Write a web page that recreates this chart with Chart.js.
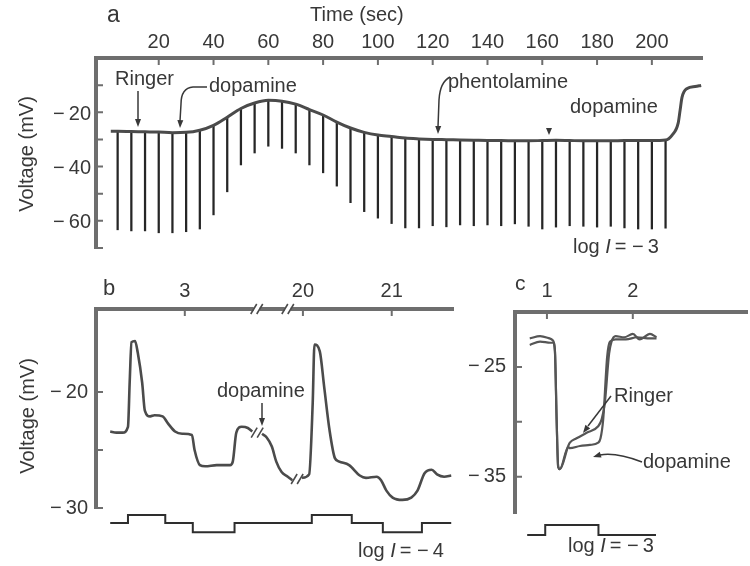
<!DOCTYPE html>
<html>
<head>
<meta charset="utf-8">
<script src="https://cdn.jsdelivr.net/npm/chart.js@4/dist/chart.umd.min.js"></script>
<style>
  html, body { margin: 0; padding: 0; background: #fff; }
  #wrap { position: relative; width: 750px; height: 566px; overflow: hidden; background: #fff; }
  canvas { position: absolute; }
  #chartA { left: 0; top: 0; }
  #chartB { left: 0; top: 270px; }
  #chartC { left: 455px; top: 270px; }
</style>
</head>
<body>
<div id="wrap">
  <canvas id="chartA" width="750" height="270"></canvas>
  <canvas id="chartB" width="470" height="296"></canvas>
  <canvas id="chartC" width="295" height="296"></canvas>
</div>
<script>
const FONT = '"Liberation Sans", Arial, Helvetica, sans-serif';
const INK = "#383838";
const AXIS = "#6e6e6e";
const TRACE = "#4b4b4b";

// ---- panel a : time in sec, voltage in mV ----
const aTimeTicks = [20, 40, 60, 80, 100, 120, 140, 160, 180, 200];
const aVoltTicks = [-10, -20, -30, -40, -50, -60, -70];
const aTraceT = [2.5, 5, 10, 15, 20, 25, 30, 35, 40, 45, 50, 55, 60, 65, 70, 75, 80, 85, 90, 95,
  100, 105, 110, 115, 120, 125, 130, 135, 140, 145, 150, 155, 160, 165, 170, 175, 180, 185, 190, 195,
  200, 205, 207.4, 209.6, 210.3, 211.0, 212.9, 215.8, 218];
const aTraceV = [-27.0, -27.0, -27.1, -27.2, -27.3, -27.5, -27.4, -26.6, -24.8, -21.8, -18.6, -16.6, -15.6, -15.9, -17.0, -19.0, -21.0, -23.6, -25.8, -27.4,
  -28.4, -28.9, -29.5, -29.8, -30.0, -30.1, -30.2, -30.3, -30.4, -30.4, -30.5, -30.5, -30.4, -30.3, -30.4, -30.5, -30.5, -30.5, -30.4, -30.4,
  -30.4, -30.2, -28.4, -24.0, -19.3, -14.5, -11.2, -10.5, -10.1];
// light flashes: one response every 5 s, bottom of each response
const aSpikeT = [5, 10, 15, 20, 25, 30, 35, 40, 45, 50, 55, 60, 65, 70, 75, 80, 85, 90, 95, 100,
  105, 110, 115, 120, 125, 130, 135, 140, 145, 150, 155, 160, 165, 170, 175, 180, 185, 190, 195, 200, 205];
const aSpikeLow = [-63.3, -63.7, -63.7, -64.4, -64.4, -64.0, -63.0, -57.8, -49.3, -39.4, -35.0, -32.5, -33.3, -35.0, -39.4, -42.3, -47.2, -53.3, -56.6, -59.0,
  -61.0, -62.6, -62.6, -61.8, -62.2, -61.5, -61.8, -61.5, -61.8, -61.1, -62.0, -63.0, -62.3, -61.8, -62.0, -62.3, -62.0, -62.6, -63.0, -63.0, -62.7];

// ---- panel b : axis in min, broken between 3 and 20 ----
const bTickPos = [3, 4.33, 5.33];
const bTickLabels = ["3", "20", "21"];
const bVoltTicks = [-20, -25, -30];
const bTraceX = [2.16, 2.23, 2.30, 2.36, 2.38, 2.40, 2.44, 2.47, 2.52, 2.55, 2.61, 2.66, 2.75, 2.81, 2.89, 2.97, 3.08, 3.11, 3.17, 3.23,
  3.36, 3.51, 3.54, 3.58, 3.64, 3.71, 3.76, 3.815, 3.87, 3.92, 3.98, 4.03, 4.09, 4.16, 4.21, 4.265, 4.32, 4.40, 4.44, 4.46,
  4.52, 4.57, 4.63, 4.69, 4.74, 4.85, 4.97, 5.04, 5.16, 5.21, 5.27, 5.34, 5.45, 5.55, 5.62, 5.70, 5.78, 5.84, 5.92, 6.00];
const bTraceV = [-23.4, -23.5, -23.5, -23.0, -19.0, -15.7, -15.6, -16.6, -19.2, -21.6, -22.1, -22.0, -22.1, -22.7, -23.4, -23.6, -23.7, -25.0, -26.3, -26.4,
  -26.3, -26.3, -26.0, -23.5, -23.0, -23.1, -23.4, null, -23.6, -23.9, -24.7, -26.0, -26.9, -27.3, -27.6, null, -27.4, -27.1, -21.0, -15.9,
  -16.5, -19.6, -23.3, -25.7, -26.0, -26.3, -27.2, -27.4, -27.3, -27.6, -28.5, -29.1, -29.3, -29.1, -28.5, -27.0, -26.7, -27.1, -27.3, -27.2];
const bStimX = [2.16, 2.36, 2.78, 3.09, 3.56, 4.43, 4.88, 5.23, 5.67, 6.00];
const bStimV = [-31.3, -30.6, -31.3, -32.1, -31.3, -30.6, -31.3, -32.1, -31.3, -31.3];
const bAxisBreaks = [3.81, 4.16];
const bTraceBreaks = [[3.815, -23.5], [4.265, -27.5]];

// ---- panel c : time in sec ----
const cTimeTicks = [1, 2];
const cVoltTicks = [-25, -30, -35];
const cRingerX = [0.80, 0.92, 1.03, 1.07, 1.093, 1.113, 1.131, 1.151, 1.248, 1.267, 1.345, 1.462, 1.597, 1.636, 1.674, 1.724, 1.752, 1.80, 1.90, 2.00, 2.08, 2.20, 2.276];
const cRingerV = [-22.4, -22.2, -22.4, -22.6, -23.5, -29.8, -34.1, -34.3, -32.2, -31.9, -31.5, -31.0, -30.4, -29.8, -28.3, -23.8, -22.7, -22.2, -22.3, -22.0, -22.5, -22.0, -22.3];
const cDopaX = [0.80, 0.92, 1.04, 1.073, 1.093, 1.113, 1.131, 1.151, 1.248, 1.267, 1.384, 1.50, 1.597, 1.624, 1.655, 1.701, 1.733, 1.80, 1.92, 2.05, 2.20, 2.276];
const cDopaV = [-23.0, -22.7, -22.8, -22.8, -23.6, -29.9, -34.1, -34.3, -32.3, -32.4, -32.2, -32.1, -31.9, -31.5, -29.8, -24.1, -22.7, -22.5, -22.5, -22.3, -22.4, -22.4];
const cStimX = [0.77, 0.98, 1.60, 2.27];
const cStimV = [-40.3, -39.4, -40.3, -40.3];

const pts = (xs, ys) => xs.map((x, i) => ({ x, y: ys[i] }));
const minus = (v) => (v < 0 ? "\u2212\u2009" + Math.abs(v) : String(v));

function axis(position, min, max, ticks, labelFn, pad, size, labelOffset) {
  return {
    type: "linear",
    position,
    min,
    max,
    offset: false,
    afterBuildTicks: (s) => { s.ticks = ticks.map((v) => ({ value: v })); },
    afterFit: (s) => { if (position === "top") s.height = size; else s.width = size; },
    grid: { drawOnChartArea: false, drawTicks: false },
    border: { display: true, width: 4, color: AXIS },
    ticks: {
      callback: labelFn, padding: pad, color: INK, autoSkip: false, maxRotation: 0,
      labelOffset: labelOffset || 0, font: { family: FONT, size: 20 },
    },
  };
}

// tick marks point into the plot
const inwardTicks = {
  id: "inwardTicks",
  afterDraw(chart) {
    const { ctx, chartArea: area, scales: { x, y } } = chart;
    ctx.save();
    ctx.strokeStyle = AXIS;
    ctx.lineWidth = 2;
    ctx.beginPath();
    x.ticks.forEach((t) => { const px = x.getPixelForValue(t.value); ctx.moveTo(px, area.top); ctx.lineTo(px, area.top + 7); });
    y.ticks.forEach((t) => { const py = y.getPixelForValue(t.value); ctx.moveTo(area.left, py); ctx.lineTo(area.left + 7, py); });
    ctx.stroke();
    ctx.restore();
  },
};

function text(ctx, parts, x, y, size) {
  let cx = x;
  ctx.textAlign = "left";
  ctx.textBaseline = "alphabetic";
  [].concat(parts).forEach((p) => {
    const italic = Array.isArray(p);
    const t = italic ? p[0] : p;
    ctx.font = (italic ? "italic " : "") + (size || 20) + "px " + FONT;
    ctx.fillText(t, cx, y);
    cx += ctx.measureText(t).width;
  });
}

function vtext(ctx, t, x, y) {
  ctx.save();
  ctx.translate(x, y);
  ctx.rotate(-Math.PI / 2);
  ctx.font = "20px " + FONT;
  ctx.textAlign = "center";
  ctx.textBaseline = "middle";
  ctx.fillText(t, 0, 0);
  ctx.restore();
}

function head(ctx, from, tip) {
  const a = Math.atan2(tip[1] - from[1], tip[0] - from[0]);
  const L = 8, W = 3;
  ctx.beginPath();
  ctx.moveTo(tip[0], tip[1]);
  ctx.lineTo(tip[0] - L * Math.cos(a) + W * Math.sin(a), tip[1] - L * Math.sin(a) - W * Math.cos(a));
  ctx.lineTo(tip[0] - L * Math.cos(a) - W * Math.sin(a), tip[1] - L * Math.sin(a) + W * Math.cos(a));
  ctx.closePath();
  ctx.fill();
}

function slashes(ctx, x, y, h) {
  ctx.save();
  ctx.strokeStyle = "#fff";
  ctx.lineWidth = 6;
  ctx.beginPath(); ctx.moveTo(x - 3, y); ctx.lineTo(x + 3, y); ctx.stroke();
  ctx.strokeStyle = TRACE;
  ctx.lineWidth = 1.6;
  ctx.beginPath();
  [-3, 3].forEach((dx) => { ctx.moveTo(x + dx - 3, y + h); ctx.lineTo(x + dx + 3, y - h); });
  ctx.stroke();
  ctx.restore();
}

// annotations, written in page coordinates
function notes(id, ox, oy, draw) {
  return {
    id,
    afterDraw(chart) {
      const ctx = chart.ctx;
      ctx.save();
      ctx.translate(-ox, -oy);
      ctx.fillStyle = INK;
      ctx.strokeStyle = INK;
      ctx.lineWidth = 1.5;
      draw(ctx, chart, ox, oy);
      ctx.restore();
    },
  };
}

const baseOptions = (padding) => ({
  responsive: false,
  animation: false,
  events: [],
  layout: { padding },
  plugins: { legend: { display: false }, tooltip: { enabled: false } },
});

// ---------- a ----------
new Chart(document.getElementById("chartA"), {
  type: "line",
  data: {
    datasets: [
      {
        data: pts(aTraceT, aTraceV), borderColor: TRACE, borderWidth: 3, pointRadius: 0,
        cubicInterpolationMode: "monotone",
      },
      {
        type: "bar",
        data: aSpikeT.map((t, i) => ({ x: t, y: [aSpikeLow[i], aTraceV[aTraceT.indexOf(t)]] })),
        backgroundColor: "#262626", borderWidth: 0, barThickness: 1.6,
      },
    ],
  },
  options: {
    ...baseOptions({ left: 0, top: 0, right: 48, bottom: 22 }),
    scales: {
      x: axis("top", -2.9, 218.3, aTimeTicks, (v) => String(v), 4, 58),
      y: axis("left", -70, 0, aVoltTicks, (v) => (v % 20 === 0 ? minus(v) : ""), 5, 96, 2),
    },
  },
  plugins: [inwardTicks, notes("notesA", 0, 0, (ctx) => {
    text(ctx, "a", 107, 22, 23);
    text(ctx, "Time (sec)", 310, 21);
    vtext(ctx, "Voltage (mV)", 27.5, 154);
    text(ctx, "Ringer", 115, 84.5);
    ctx.beginPath(); ctx.moveTo(138, 91); ctx.lineTo(138, 120); ctx.stroke();
    head(ctx, [138, 91], [138, 127]);
    text(ctx, "dopamine", 209, 92);
    ctx.beginPath(); ctx.moveTo(207, 87); ctx.lineTo(193, 87);
    ctx.quadraticCurveTo(181, 88, 181, 104); ctx.lineTo(180, 121); ctx.stroke();
    head(ctx, [181, 104], [180, 128]);
    text(ctx, "phentolamine", 448, 87.5);
    ctx.beginPath(); ctx.moveTo(450, 77); ctx.quadraticCurveTo(440, 82, 439, 100); ctx.lineTo(438, 127); ctx.stroke();
    head(ctx, [439, 100], [438, 134]);
    text(ctx, "dopamine", 570, 113);
    ctx.beginPath(); ctx.moveTo(546, 128); ctx.lineTo(552, 128); ctx.lineTo(549, 135); ctx.closePath(); ctx.fill();
    text(ctx, ["log ", ["I"], "\u2009= \u2212\u20093"], 573, 253);
  })],
});

// ---------- b ----------
new Chart(document.getElementById("chartB"), {
  type: "line",
  data: {
    datasets: [
      {
        data: pts(bTraceX, bTraceV), borderColor: TRACE, borderWidth: 2.6, pointRadius: 0,
        cubicInterpolationMode: "monotone", spanGaps: false,
      },
      {
        data: pts(bStimX, bStimV), borderColor: "#2e2e2e", borderWidth: 2, pointRadius: 0,
        stepped: "before", clip: false,
      },
    ],
  },
  options: {
    ...baseOptions({ left: 0, top: 0, right: 17, bottom: 58 }),
    scales: {
      x: axis("top", 2, 6.02, bTickPos, (v, i) => bTickLabels[i], 6, 39),
      y: axis("left", -30, -12.84, bVoltTicks, (v) => (v % 10 === 0 ? minus(v) : ""), 8, 96),
    },
  },
  plugins: [inwardTicks, notes("notesB", 0, 270, (ctx, chart, ox, oy) => {
    const { x, y } = chart.scales;
    text(ctx, "b", 103, 295, 22);
    vtext(ctx, "Voltage (mV)", 28.5, 416);
    text(ctx, "dopamine", 217, 397);
    ctx.beginPath(); ctx.moveTo(262, 403); ctx.lineTo(262, 419); ctx.stroke();
    head(ctx, [262, 403], [262, 426]);
    bAxisBreaks.forEach((u) => slashes(ctx, x.getPixelForValue(u) + ox, chart.chartArea.top + oy, 5));
    bTraceBreaks.forEach(([u, v]) => slashes(ctx, x.getPixelForValue(u) + ox, y.getPixelForValue(v) + oy, 5));
    text(ctx, ["log ", ["I"], "\u2009= \u2212\u20094"], 358, 557);
  })],
});

// ---------- c ----------
new Chart(document.getElementById("chartC"), {
  type: "line",
  data: {
    datasets: [
      { data: pts(cRingerX, cRingerV), borderColor: "#555", borderWidth: 2.2, pointRadius: 0, cubicInterpolationMode: "monotone" },
      { data: pts(cDopaX, cDopaV), borderColor: "#555", borderWidth: 2.2, pointRadius: 0, cubicInterpolationMode: "monotone" },
      { data: pts(cStimX, cStimV), borderColor: "#2e2e2e", borderWidth: 2, pointRadius: 0, stepped: "before", clip: false },
    ],
  },
  options: {
    ...baseOptions({ left: 0, top: 0, right: 3, bottom: 53 }),
    scales: {
      x: axis("top", 0.628, 3.33, cTimeTicks, (v) => String(v), 9, 42),
      y: axis("left", -38.3, -20, cVoltTicks, (v) => (v === -30 ? "" : minus(v)), 9, 60),
    },
  },
  plugins: [inwardTicks, notes("notesC", 455, 270, (ctx) => {
    text(ctx, "c", 515, 290, 21);
    text(ctx, "Ringer", 614, 402);
    ctx.beginPath(); ctx.moveTo(611, 396); ctx.lineTo(588, 426); ctx.stroke();
    head(ctx, [611, 396], [583, 433]);
    text(ctx, "dopamine", 643, 468);
    ctx.beginPath(); ctx.moveTo(642, 462); ctx.quadraticCurveTo(616, 452, 600, 455); ctx.stroke();
    head(ctx, [606, 453], [593, 457]);
    text(ctx, ["log ", ["I"], "\u2009= \u2212\u20093"], 568, 552);
  })],
});
</script>
</body>
</html>
